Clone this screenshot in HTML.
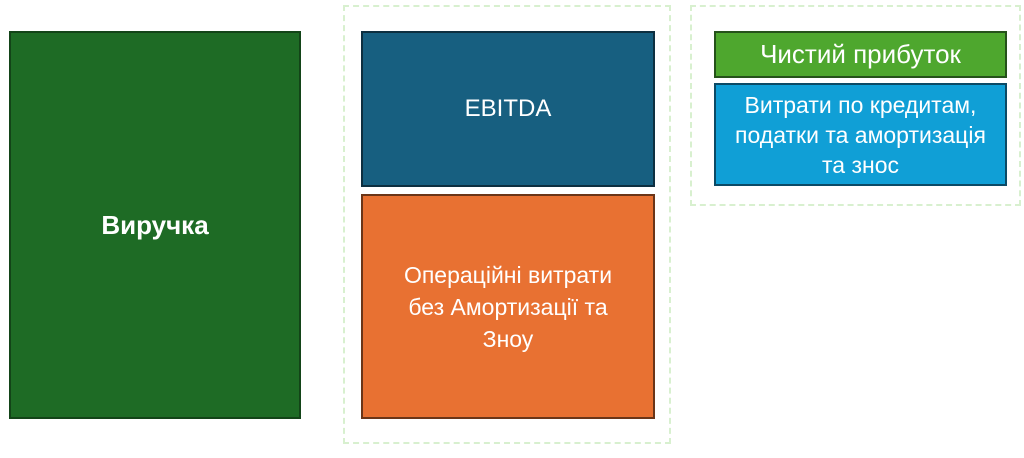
<!DOCTYPE html>
<html><head><meta charset="utf-8"><style>
body{margin:0;width:1024px;height:458px;background:#fff;position:relative;overflow:hidden;font-family:"Liberation Sans","DejaVu Sans",sans-serif;}
.b{position:absolute;box-sizing:border-box;display:flex;align-items:center;justify-content:center;text-align:center;color:#fff;}
.d{position:absolute;box-sizing:border-box;border:2px dashed #d8f0cf;}
</style></head><body>
<div class="b" style="left:9px;top:31px;width:292px;height:388px;background:#1e6b25;border:2px solid #134418;font-weight:bold;font-size:26px;">Виручка</div>
<div class="d" style="left:343px;top:5px;width:328px;height:439px;"></div>
<div class="d" style="left:690px;top:5px;width:331px;height:201px;"></div>
<div class="b" style="left:361px;top:31px;width:294px;height:156px;background:#175f80;border:2px solid #0d2f40;font-size:24px;">EBITDA</div>
<div class="b" style="left:361px;top:194px;width:294px;height:225px;background:#e87132;border:2px solid #6b3518;font-size:23px;line-height:32px;">Операційні витрати<br>без Амортизації та<br>Зноу</div>
<div class="b" style="left:714px;top:31px;width:293px;height:47px;background:#4ea72e;border:2px solid #25521a;font-size:26px;">Чистий прибуток</div>
<div class="b" style="left:714px;top:83px;width:293px;height:103px;background:#109fd6;border:2px solid #0b4a66;font-size:23px;line-height:30px;">Витрати по кредитам,<br>податки та амортизація<br>та знос</div>
</body></html>
